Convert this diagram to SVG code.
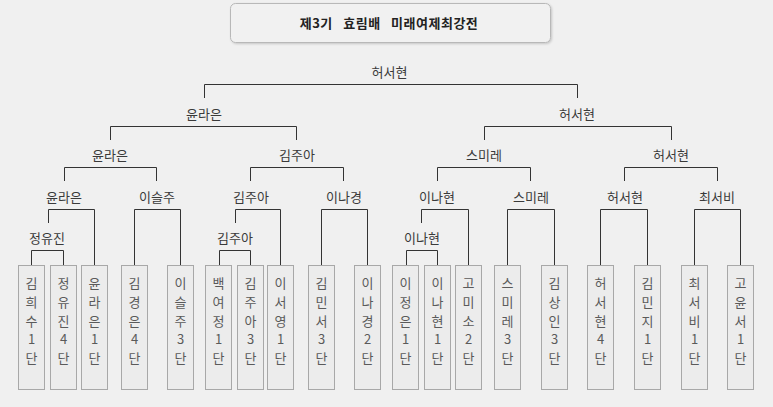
<svg xmlns="http://www.w3.org/2000/svg" width="773" height="407" viewBox="0 0 773 407">
<defs>
<filter id="sh" x="-5%" y="-20%" width="110%" height="150%">
<feDropShadow dx="1" dy="1" stdDeviation="0.8" flood-color="#000" flood-opacity="0.18"/>
</filter>
</defs>
<style>
text{font-family:"Noto Sans CJK KR","Noto Sans",sans-serif;text-anchor:middle}
.t{font-size:13px;font-weight:bold;fill:#222;word-spacing:7px;letter-spacing:0.5px}
.lb{font-size:13px;fill:#3a3a3a}
.bx{fill:#ececec;stroke:#a8a8a8;stroke-width:1}
.pn{font-size:13px;fill:#5a5a5a}
.cn{fill:none;stroke:#333;stroke-width:1}
</style>
<rect width="773" height="407" fill="#f0f0f0"/>
<g id="title">
<rect x="230.5" y="3.5" width="320" height="39" rx="5" fill="#f1f1f1" stroke="#b8b8b8" filter="url(#sh)"/>
<text class="t" x="389" y="28">제3기 효림배 미래여제최강전</text>
</g>
<g id="connectors" class="cn">
<path class="cn" d="M204.5,98V84.5H577.5V98"/>
<path class="cn" d="M110.5,140V126.5H296.5V140"/>
<path class="cn" d="M484.5,140V126.5H671.5V140"/>
<path class="cn" d="M64.5,181V167.5H156.5V181"/>
<path class="cn" d="M250.5,181V167.5H343.5V181"/>
<path class="cn" d="M437.5,181V167.5H530.5V181"/>
<path class="cn" d="M624.5,181V167.5H717.5V181"/>
<path class="cn" d="M48.5,223V209.5H94.5V265"/>
<path class="cn" d="M134.5,265V209.5H180.5V265"/>
<path class="cn" d="M235.5,223V209.5H280.5V265"/>
<path class="cn" d="M321.5,265V209.5H367.5V265"/>
<path class="cn" d="M421.5,223V209.5H468.5V265"/>
<path class="cn" d="M507.5,265V209.5H554.5V265"/>
<path class="cn" d="M600.5,265V209.5H647.5V265"/>
<path class="cn" d="M694.5,265V209.5H740.5V265"/>
<path class="cn" d="M31.5,265V250.5H63.5V265"/>
<path class="cn" d="M219.5,265V250.5H250.5V265"/>
<path class="cn" d="M406.5,265V250.5H437.5V265"/>
</g>
<g id="labels">
<text id="r-final" class="lb" x="389.5" y="76.5">허서현</text>
<text id="r-sf1" class="lb" x="204" y="119">윤라은</text>
<text id="r-sf2" class="lb" x="577" y="119">허서현</text>
<text id="r-qf1" class="lb" x="110" y="159.5">윤라은</text>
<text id="r-qf2" class="lb" x="297" y="159.5">김주아</text>
<text id="r-qf3" class="lb" x="484" y="159.5">스미레</text>
<text id="r-qf4" class="lb" x="671" y="159.5">허서현</text>
<text id="r-r16a" class="lb" x="64" y="201.5">윤라은</text>
<text id="r-r16b" class="lb" x="157" y="201.5">이슬주</text>
<text id="r-r16c" class="lb" x="251" y="201.5">김주아</text>
<text id="r-r16d" class="lb" x="344" y="201.5">이나경</text>
<text id="r-r16e" class="lb" x="437" y="201.5">이나현</text>
<text id="r-r16f" class="lb" x="531" y="201.5">스미레</text>
<text id="r-r16g" class="lb" x="625" y="201.5">허서현</text>
<text id="r-r16h" class="lb" x="717" y="201.5">최서비</text>
<text id="r-pre1" class="lb" x="47" y="243">정유진</text>
<text id="r-pre2" class="lb" x="235" y="243">김주아</text>
<text id="r-pre3" class="lb" x="422" y="243">이나현</text>
</g>
<g id="p1"><rect class="bx" x="18.5" y="265.5" width="26" height="124"/><text class="pn" x="31.5" y="288">김</text><text class="pn" x="31.5" y="307">희</text><text class="pn" x="31.5" y="325.5">수</text><text class="pn" x="31.5" y="344">1</text><text class="pn" x="31.5" y="363">단</text></g>
<g id="p2"><rect class="bx" x="50.5" y="265.5" width="26" height="124"/><text class="pn" x="63.5" y="288">정</text><text class="pn" x="63.5" y="307">유</text><text class="pn" x="63.5" y="325.5">진</text><text class="pn" x="63.5" y="344">4</text><text class="pn" x="63.5" y="363">단</text></g>
<g id="p3"><rect class="bx" x="81.5" y="265.5" width="26" height="124"/><text class="pn" x="94.5" y="288">윤</text><text class="pn" x="94.5" y="307">라</text><text class="pn" x="94.5" y="325.5">은</text><text class="pn" x="94.5" y="344">1</text><text class="pn" x="94.5" y="363">단</text></g>
<g id="p4"><rect class="bx" x="121.5" y="265.5" width="26" height="124"/><text class="pn" x="134.5" y="288">김</text><text class="pn" x="134.5" y="307">경</text><text class="pn" x="134.5" y="325.5">은</text><text class="pn" x="134.5" y="344">4</text><text class="pn" x="134.5" y="363">단</text></g>
<g id="p5"><rect class="bx" x="167.5" y="265.5" width="26" height="124"/><text class="pn" x="180.5" y="288">이</text><text class="pn" x="180.5" y="307">슬</text><text class="pn" x="180.5" y="325.5">주</text><text class="pn" x="180.5" y="344">3</text><text class="pn" x="180.5" y="363">단</text></g>
<g id="p6"><rect class="bx" x="205.5" y="265.5" width="26" height="124"/><text class="pn" x="218.5" y="288">백</text><text class="pn" x="218.5" y="307">여</text><text class="pn" x="218.5" y="325.5">정</text><text class="pn" x="218.5" y="344">1</text><text class="pn" x="218.5" y="363">단</text></g>
<g id="p7"><rect class="bx" x="237.5" y="265.5" width="26" height="124"/><text class="pn" x="250.5" y="288">김</text><text class="pn" x="250.5" y="307">주</text><text class="pn" x="250.5" y="325.5">아</text><text class="pn" x="250.5" y="344">3</text><text class="pn" x="250.5" y="363">단</text></g>
<g id="p8"><rect class="bx" x="267.5" y="265.5" width="26" height="124"/><text class="pn" x="280.5" y="288">이</text><text class="pn" x="280.5" y="307">서</text><text class="pn" x="280.5" y="325.5">영</text><text class="pn" x="280.5" y="344">1</text><text class="pn" x="280.5" y="363">단</text></g>
<g id="p9"><rect class="bx" x="308.5" y="265.5" width="26" height="124"/><text class="pn" x="321.5" y="288">김</text><text class="pn" x="321.5" y="307">민</text><text class="pn" x="321.5" y="325.5">서</text><text class="pn" x="321.5" y="344">3</text><text class="pn" x="321.5" y="363">단</text></g>
<g id="p10"><rect class="bx" x="354.5" y="265.5" width="26" height="124"/><text class="pn" x="367.5" y="288">이</text><text class="pn" x="367.5" y="307">나</text><text class="pn" x="367.5" y="325.5">경</text><text class="pn" x="367.5" y="344">2</text><text class="pn" x="367.5" y="363">단</text></g>
<g id="p11"><rect class="bx" x="392.5" y="265.5" width="26" height="124"/><text class="pn" x="405.5" y="288">이</text><text class="pn" x="405.5" y="307">정</text><text class="pn" x="405.5" y="325.5">은</text><text class="pn" x="405.5" y="344">1</text><text class="pn" x="405.5" y="363">단</text></g>
<g id="p12"><rect class="bx" x="424.5" y="265.5" width="26" height="124"/><text class="pn" x="437.5" y="288">이</text><text class="pn" x="437.5" y="307">나</text><text class="pn" x="437.5" y="325.5">현</text><text class="pn" x="437.5" y="344">1</text><text class="pn" x="437.5" y="363">단</text></g>
<g id="p13"><rect class="bx" x="455.5" y="265.5" width="26" height="124"/><text class="pn" x="468.5" y="288">고</text><text class="pn" x="468.5" y="307">미</text><text class="pn" x="468.5" y="325.5">소</text><text class="pn" x="468.5" y="344">2</text><text class="pn" x="468.5" y="363">단</text></g>
<g id="p14"><rect class="bx" x="494.5" y="265.5" width="26" height="124"/><text class="pn" x="507.5" y="288">스</text><text class="pn" x="507.5" y="307">미</text><text class="pn" x="507.5" y="325.5">레</text><text class="pn" x="507.5" y="344">3</text><text class="pn" x="507.5" y="363">단</text></g>
<g id="p15"><rect class="bx" x="541.5" y="265.5" width="26" height="124"/><text class="pn" x="554.5" y="288">김</text><text class="pn" x="554.5" y="307">상</text><text class="pn" x="554.5" y="325.5">인</text><text class="pn" x="554.5" y="344">3</text><text class="pn" x="554.5" y="363">단</text></g>
<g id="p16"><rect class="bx" x="587.5" y="265.5" width="26" height="124"/><text class="pn" x="600.5" y="288">허</text><text class="pn" x="600.5" y="307">서</text><text class="pn" x="600.5" y="325.5">현</text><text class="pn" x="600.5" y="344">4</text><text class="pn" x="600.5" y="363">단</text></g>
<g id="p17"><rect class="bx" x="634.5" y="265.5" width="26" height="124"/><text class="pn" x="647.5" y="288">김</text><text class="pn" x="647.5" y="307">민</text><text class="pn" x="647.5" y="325.5">지</text><text class="pn" x="647.5" y="344">1</text><text class="pn" x="647.5" y="363">단</text></g>
<g id="p18"><rect class="bx" x="681.5" y="265.5" width="26" height="124"/><text class="pn" x="694.5" y="288">최</text><text class="pn" x="694.5" y="307">서</text><text class="pn" x="694.5" y="325.5">비</text><text class="pn" x="694.5" y="344">1</text><text class="pn" x="694.5" y="363">단</text></g>
<g id="p19"><rect class="bx" x="727.5" y="265.5" width="26" height="124"/><text class="pn" x="740.5" y="288">고</text><text class="pn" x="740.5" y="307">윤</text><text class="pn" x="740.5" y="325.5">서</text><text class="pn" x="740.5" y="344">1</text><text class="pn" x="740.5" y="363">단</text></g>
</svg>
